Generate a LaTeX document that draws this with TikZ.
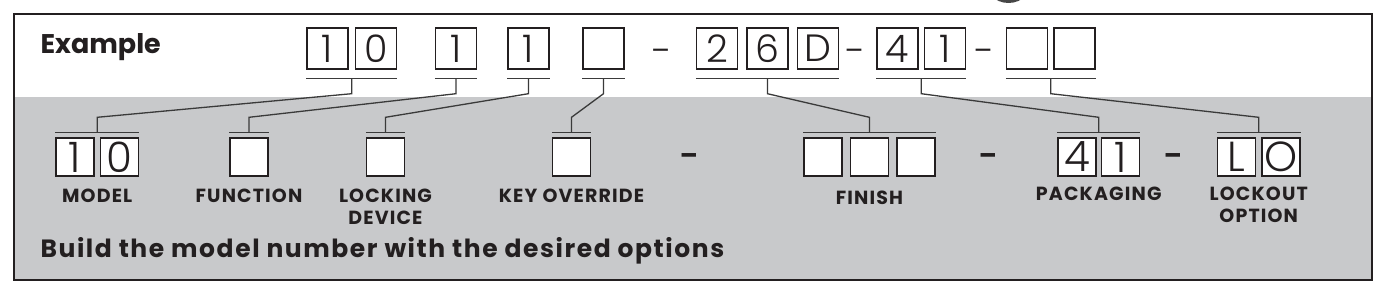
\documentclass[tikz,border=0pt]{standalone}
\usepackage{fontspec}
\setmainfont{Poppins}
\newfontfamily\lightfont{Poppins Light}
\newfontfamily\trackedfont[LetterSpace=6]{Poppins}
\newfontfamily\notefont[LetterSpace=6.3]{Poppins}
\usetikzlibrary{calc,positioning}
\definecolor{PanelGray}{HTML}{C8C9CB}
\definecolor{InkDark}{HTML}{231F20}
\definecolor{LeadGray}{HTML}{3A3A3A}
\tikzset{
  topbox/.style={draw=InkDark, line width=1.4pt, minimum size=41pt, inner sep=0pt, text=InkDark, font=\lightfont\fontsize{38}{38}\selectfont},
  lowbox/.style={draw=InkDark, fill=white, line width=1.4pt, minimum size=38pt, inner sep=0pt, text=InkDark, font=\lightfont\fontsize{42}{42}\selectfont},
  partlabel/.style={align=center, inner sep=0pt, text=InkDark, font=\trackedfont\bfseries\fontsize{19}{22}\selectfont},
  topdash/.style={inner sep=0pt, text=InkDark, font=\fontsize{28}{28}\selectfont},
  lowdash/.style={inner sep=0pt, text=InkDark, font=\bfseries\fontsize{26}{26}\selectfont},
  groupbar/.style={draw=LeadGray, line width=1.5pt},
  leadline/.style={draw=LeadGray, line width=1.3pt}
}
\begin{document}
\begin{tikzpicture}[x=1pt, y=-1pt]
  \useasboundingbox (0,0) rectangle (1388,286);
  \fill[gray!55!black] (1008.5,-22) circle[radius=25];
  \fill[PanelGray] (13.5,97) rectangle (1372,280);
  \draw[InkDark, line width=2pt] (13.5,14) rectangle (1372,280);
  \node[anchor=base west, text=InkDark, font=\bfseries\fontsize{27}{27}\selectfont] (example) at (37,54) {Example};
  % example number
  \node[topbox] (m1) at (327.5,48.5) {1};
  \node[topbox, right=6pt of m1] (m2) {0};
  \node[topbox] (fn1) at (456,48.5) {1};
  \node[topbox] (lk1) at (528.5,48.5) {1};
  \node[topbox] (ko1) at (603.5,48.5) {};
  \node[topdash] (dash1) at (660.5,55) {–};
  \node[topbox] (fi1) at (717,48.5) {2};
  \node[topbox, right=8pt of fi1] (fi2) {6};
  \node[topbox, right=8pt of fi2] (fi3) {D};
  \node[topdash] (dash2) at (854,55) {–};
  \node[topbox] (pk1) at (897.5,48.5) {4};
  \node[topbox, right=5pt of pk1] (pk2) {1};
  \node[topdash] (dash3) at (983,55) {–};
  \node[topbox] (lo1) at (1027,48.5) {};
  \node[topbox, right=5pt of lo1] (lo2) {};
  % option fields
  \node[lowbox] (bm1) at (75,157) {1};
  \node[lowbox, right=5pt of bm1] (bm2) {0};
  \node[lowbox] (bfn1) at (249,157) {};
  \node[lowbox] (blk1) at (385.5,157) {};
  \node[lowbox] (bko1) at (571.5,157) {};
  \node[lowdash] (bdash1) at (689,159) {–};
  \node[lowbox] (bfi1) at (823,157) {};
  \node[lowbox, right=7pt of bfi1] (bfi2) {};
  \node[lowbox, right=7pt of bfi2] (bfi3) {};
  \node[lowdash] (bdash2) at (988,159) {–};
  \node[lowbox] (bpk1) at (1077,157) {4};
  \node[lowbox, right=4pt of bpk1] (bpk2) {1};
  \node[lowdash] (bdash3) at (1173,159) {–};
  \node[lowbox] (blo1) at (1236.5,157) {L};
  \node[lowbox, right=5pt of blo1] (blo2) {O};
  % labels
  \node[partlabel, below=12pt of $(bm1.south)!0.5!(bm2.south)$] (modeltxt) {MODEL};
  \node[partlabel, below=12pt of bfn1.south] (functiontxt) {FUNCTION};
  \node[partlabel, below=12pt of blk1.south] (lockingtxt) {LOCKING\\DEVICE};
  \node[partlabel, below=12pt of bko1.south] (overridetxt) {KEY OVERRIDE};
  \node[partlabel, below=14pt of bfi2.south] (finishtxt) {FINISH};
  \node[partlabel, below=10pt of $(bpk1.south)!0.5!(bpk2.south)$] (packagingtxt) {PACKAGING};
  \node[partlabel, below=10pt of $(blo1.south)!0.5!(blo2.south)$] (lockouttxt) {LOCKOUT\\OPTION};
  \node[anchor=base west, text=InkDark, font=\notefont\bfseries\fontsize{25}{25}\selectfont] (buildtxt) at (37,257) {Build the model number with the desired options};
  % bars under the example
  \draw[groupbar] ($(m1.south west)+(0,9)$) -- ($(m2.south east)+(0,9)$);
  \draw[groupbar] ($(fn1.south west)+(0,9)$) -- ($(fn1.south east)+(0,9)$);
  \draw[groupbar] ($(lk1.south west)+(0,9)$) -- ($(lk1.south east)+(0,9)$);
  \draw[groupbar] ($(ko1.south west)+(0,9)$) -- ($(ko1.south east)+(0,9)$);
  \draw[groupbar] ($(fi1.south west)+(0,9)$) -- ($(fi3.south east)+(0,9)$);
  \draw[groupbar] ($(pk1.south west)+(0,9)$) -- ($(pk2.south east)+(0,9)$);
  \draw[groupbar] ($(lo1.south west)+(0,9)$) -- ($(lo2.south east)+(0,9)$);
  \coordinate (um) at ($(m1.south)!0.5!(m2.south)+(0,9)$);
  \coordinate (ufn) at ($(fn1.south)+(0,9)$);
  \coordinate (ulk) at ($(lk1.south)+(0,9)$);
  \coordinate (uko) at ($(ko1.south)+(0,9)$);
  \coordinate (ufi) at ($(fi2.south)+(0,9)$);
  \coordinate (upk) at ($(pk1.south)!0.5!(pk2.south)+(0,9)$);
  \coordinate (ulo) at ($(lo1.south)!0.5!(lo2.south)+(0,9)$);
  % bars over the fields
  \draw[groupbar] ($(bm1.north west)+(0,-5)$) -- ($(bm2.north east)+(0,-5)$);
  \draw[groupbar] ($(bfn1.north west)+(0,-5)$) -- ($(bfn1.north east)+(0,-5)$);
  \draw[groupbar] ($(blk1.north west)+(0,-5)$) -- ($(blk1.north east)+(0,-5)$);
  \draw[groupbar] ($(bko1.north west)+(0,-5)$) -- ($(bko1.north east)+(0,-5)$);
  \draw[groupbar] ($(bfi1.north west)+(0,-5)$) -- ($(bfi3.north east)+(0,-5)$);
  \draw[groupbar] ($(bpk1.north west)+(0,-5)$) -- ($(bpk2.north east)+(0,-5)$);
  \draw[groupbar] ($(blo1.north west)+(0,-5)$) -- ($(blo2.north east)+(0,-5)$);
  \coordinate (lm) at ($(bm1.north)!0.5!(bm2.north)+(0,-5)$);
  \coordinate (lfn) at ($(bfn1.north)+(0,-5)$);
  \coordinate (llk) at ($(blk1.north)+(0,-5)$);
  \coordinate (lko) at ($(bko1.north)+(0,-5)$);
  \coordinate (lfi) at ($(bfi2.north)+(0,-5)$);
  \coordinate (lpk) at ($(bpk1.north)!0.5!(bpk2.north)+(0,-5)$);
  \coordinate (llo) at ($(blo1.north)!0.5!(blo2.north)+(0,-5)$);
  % leaders
  \draw[leadline] (um) -- ++(0,15) -- ($(lm)+(0,-15)$) -- (lm);
  \draw[leadline] (ufn) -- ++(0,15) -- ($(lfn)+(0,-15)$) -- (lfn);
  \draw[leadline] (ulk) -- ++(0,15) -- ($(llk)+(0,-15)$) -- (llk);
  \draw[leadline] (uko) -- ++(0,15) -- ($(lko)+(0,-15)$) -- (lko);
  \draw[leadline] (ufi) -- ++(0,15) -- ($(lfi)+(0,-15)$) -- (lfi);
  \draw[leadline] (upk) -- ++(0,15) -- ($(lpk)+(0,-15)$) -- (lpk);
  \draw[leadline] (ulo) -- ++(0,15) -- ($(llo)+(0,-15)$) -- (llo);
\end{tikzpicture}
\end{document}
